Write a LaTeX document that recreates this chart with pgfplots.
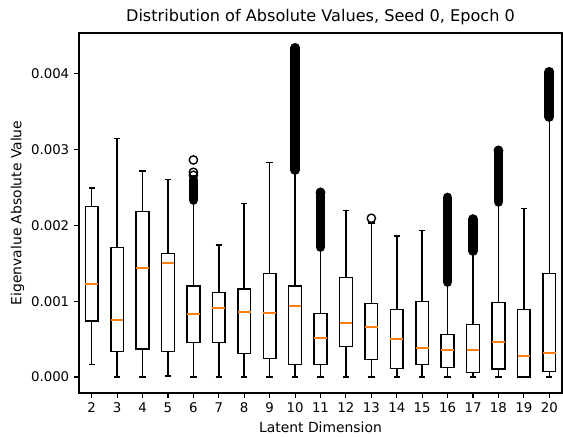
\documentclass[border=0pt]{standalone}
\usepackage{fontspec}
\setmainfont{DejaVu Sans}
\usepackage{pgfplots}
\pgfplotsset{compat=1.18}
\usepgfplotslibrary{statistics}
\definecolor{mplorange}{HTML}{FF7F0E}
% all y values below are eigenvalue absolute values in units of 0.001
\newcommand{\bp}[6]{\addplot[draw=black, line width=1pt, boxplot prepared={draw direction=y, draw position=#1, lower whisker=#2, lower quartile=#3, median=#4, upper quartile=#5, upper whisker=#6, box extend=0.5, whisker extend=0.25}] coordinates {};}
\begin{document}
\begin{tikzpicture}
\useasboundingbox (-56.88pt,-31.68pt) rectangle (348.48pt,282.96pt);
\begin{axis}[
  at={(0,0)}, anchor=south west,
  scale only axis, width=347.76pt, height=259.2pt,
  xmin=1.5, xmax=20.5, ymin=-0.211, ymax=4.538,
  xtick={2,...,20}, ytick={0,1,2,3,4},
  yticklabels={0.000,0.001,0.002,0.003,0.004},
  /pgf/number format/assume math mode=true,
  tick align=outside, major tick length=3.5pt,
  tick style={black, line width=0.8pt},
  axis line style={line width=0.8pt},
  xtick pos=left, ytick pos=left,
  ticklabel style={font=\fontsize{9.6}{11}\selectfont},
  label style={font=\fontsize{9.6}{11}\selectfont},
  title={Distribution of Absolute Values, Seed 0, Epoch 0},
  every axis title/.style={font=\fontsize{11.6}{14}\selectfont, at={(axis description cs:0.5,1)}, anchor=center, yshift=11.5pt},
  xlabel={Latent Dimension}, ylabel={Eigenvalue Absolute Value},
  every axis x label/.style={at={(axis description cs:0.5,0)}, anchor=center, yshift=-24.5pt},
  every axis y label/.style={at={(axis description cs:-0.1274,0.5)}, anchor=center, rotate=90},
  boxplot/every median/.style={draw=mplorange, line width=1.3pt},
  boxplot/every box/.style={draw=black, line width=1.1pt},
  boxplot/every whisker/.style={draw=black, line width=1.1pt},
]
% position, lower whisker, Q1, median, Q3, upper whisker
\bp{2}{0.167}{0.739}{1.227}{2.247}{2.49}
\bp{3}{0.0}{0.339}{0.752}{1.706}{3.149}
\bp{4}{0.0}{0.369}{1.434}{2.181}{2.718}
\bp{5}{0.012}{0.339}{1.50}{1.627}{2.608}
\bp{6}{0.0}{0.453}{0.827}{1.20}{2.30}
\bp{7}{0.0}{0.453}{0.915}{1.112}{1.741}
\bp{8}{0.0}{0.312}{0.853}{1.161}{2.291}
\bp{9}{0.0}{0.246}{0.840}{1.368}{2.828}
\bp{10}{0.0}{0.167}{0.941}{1.20}{2.70}
\bp{11}{0.0}{0.167}{0.519}{0.84}{1.70}
\bp{12}{0.0}{0.40}{0.708}{1.315}{2.194}
\bp{13}{0.0}{0.233}{0.656}{0.972}{2.03}
\bp{14}{0.0}{0.114}{0.505}{0.893}{1.86}
\bp{15}{0.0}{0.167}{0.378}{0.994}{1.93}
\bp{16}{0.0}{0.123}{0.352}{0.563}{1.23}
\bp{17}{0.0}{0.062}{0.352}{0.695}{1.64}
\bp{18}{0.0}{0.106}{0.466}{0.985}{2.28}
\bp{19}{0.0}{0.0}{0.273}{0.893}{2.225}
\bp{20}{0.0}{0.07}{0.321}{1.368}{3.40}
% dense runs of outliers
\addplot[black, line width=7pt, line cap=round] coordinates {(6,2.335) (6,2.60)};
\addplot[black, line width=7pt, line cap=round] coordinates {(10,2.73) (10,4.34)};
\addplot[black, line width=7pt, line cap=round] coordinates {(11,1.715) (11,2.434)};
\addplot[black, line width=7pt, line cap=round] coordinates {(16,1.253) (16,2.368)};
\addplot[black, line width=7pt, line cap=round] coordinates {(17,1.662) (17,2.084)};
\addplot[black, line width=7pt, line cap=round] coordinates {(18,2.31) (18,2.988)};
\addplot[black, line width=7pt, line cap=round] coordinates {(20,3.43) (20,4.024)};
% separate outliers
\addplot[only marks, mark=o, mark size=3pt, mark options={draw=black, fill=white, line width=1pt}] coordinates {
  (6,2.66) (6,2.70) (6,2.863)
  (10,4.26) (10,4.30) (10,4.34)
  (11,2.434)
  (13,2.094)
  (18,2.988)
  (20,3.92) (20,3.97) (20,4.024)
};
\end{axis}
\end{tikzpicture}
\end{document}
